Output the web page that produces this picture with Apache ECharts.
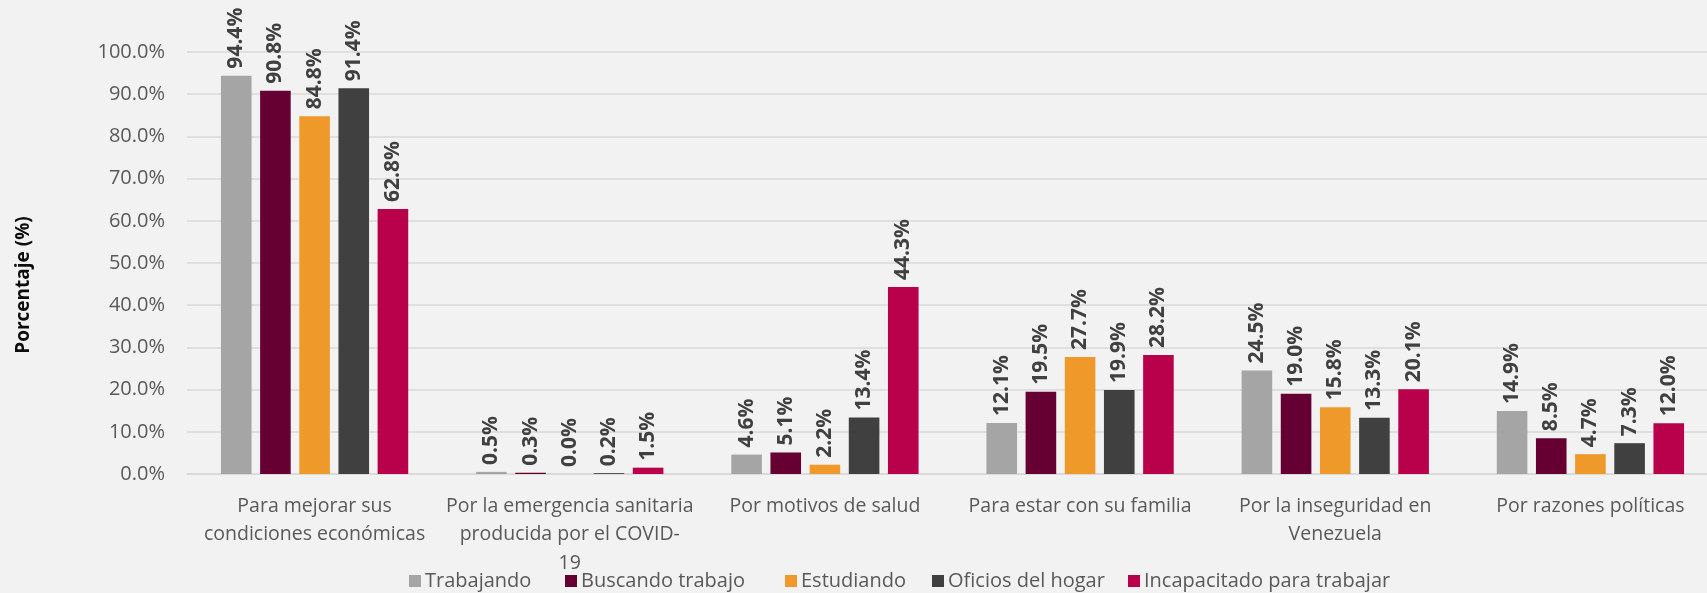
<!DOCTYPE html>
<html lang="es">
<head>
<meta charset="utf-8">
<title>Motivos de migración según condición de actividad</title>
<script src="https://cdn.jsdelivr.net/npm/echarts@6/dist/echarts.min.js"></script>
<style>
  html, body { margin: 0; padding: 0; background: #f2f2f2; overflow: hidden; }
  /* the plot area runs slightly past the right edge of the window */
  #chart { width: 1718px; height: 593px; }
</style>
</head>
<body>
<div id="chart"></div>
<script>
// Motivos (categorías del eje X)
const categories = [
  'Para mejorar sus\ncondiciones económicas',
  'Por la emergencia sanitaria\nproducida por el COVID-\n19',
  'Por motivos de salud',
  'Para estar con su familia',
  'Por la inseguridad en\nVenezuela',
  'Por razones políticas'
];

// Porcentajes por condición de actividad
const trabajando       = [94.4, 0.5, 4.6, 12.1, 24.5, 14.9];
const buscandoTrabajo  = [90.8, 0.3, 5.1, 19.5, 19.0, 8.5];
const estudiando       = [84.8, 0.0, 2.2, 27.7, 15.8, 4.7];
const oficiosHogar     = [91.4, 0.2, 13.4, 19.9, 13.3, 7.3];
const incapacitado     = [62.8, 1.5, 44.3, 28.2, 20.1, 12.0];

const seriesNames = ['Trabajando', 'Buscando trabajo', 'Estudiando', 'Oficios del hogar', 'Incapacitado para trabajar'];
const seriesData = [trabajando, buscandoTrabajo, estudiando, oficiosHogar, incapacitado];
const colors = ['#a5a5a5', '#660033', '#ef992a', '#404040', '#b8004b'];

const FONT = '"Open Sans", "Noto Sans", sans-serif';

// legend entries sit in fixed columns along the bottom
const legendLeft = [409, 565, 785, 932, 1128];

const chart = echarts.init(document.getElementById('chart'));

chart.setOption({
  backgroundColor: '#f2f2f2',
  animation: false,
  textStyle: { fontFamily: FONT },
  grid: { left: 187, right: 0, top: 52, bottom: 119 },
  legend: seriesNames.map((name, i) => ({
    left: legendLeft[i],
    top: 571,
    padding: 0,
    itemWidth: 12,
    itemHeight: 12,
    itemGap: 0,
    icon: 'rect',
    textStyle: { fontFamily: FONT, fontSize: 20, color: '#595959', padding: [0, 0, 0, -1] },
    data: [name]
  })),
  graphic: [{
    type: 'text',
    x: 24,
    y: 285,
    rotation: Math.PI / 2,
    style: {
      text: 'Porcentaje (%)',
      font: 'bold 19px ' + FONT,
      fill: '#0d0d0d',
      textAlign: 'center',
      textVerticalAlign: 'middle'
    }
  }],
  xAxis: {
    type: 'category',
    data: categories,
    axisLine: { lineStyle: { color: '#d9d9d9', width: 1.5 } },
    axisTick: { show: false },
    axisLabel: {
      interval: 0,
      margin: 18,
      fontSize: 19.5,
      lineHeight: 28.5,
      color: '#595959',
      fontFamily: FONT
    }
  },
  yAxis: {
    type: 'value',
    min: 0,
    max: 100,
    interval: 10,
    axisLine: { show: false },
    axisTick: { show: false },
    splitLine: { lineStyle: { color: '#d9d9d9', width: 1.5 } },
    axisLabel: {
      margin: 22,
      fontSize: 20,
      color: '#595959',
      fontFamily: FONT,
      formatter: v => v.toFixed(1) + '%'
    }
  },
  series: seriesNames.map((name, i) => ({
    name,
    type: 'bar',
    data: seriesData[i],
    barGap: '28%',
    barCategoryGap: '26.6%',
    itemStyle: { color: colors[i] },
    label: {
      show: true,
      position: 'top',
      rotate: 90,
      align: 'left',
      verticalAlign: 'middle',
      distance: 7,
      fontSize: 21,
      fontWeight: 'bold',
      color: '#404040',
      fontFamily: FONT,
      formatter: p => p.value.toFixed(1) + '%'
    }
  }))
});
</script>
</body>
</html>
